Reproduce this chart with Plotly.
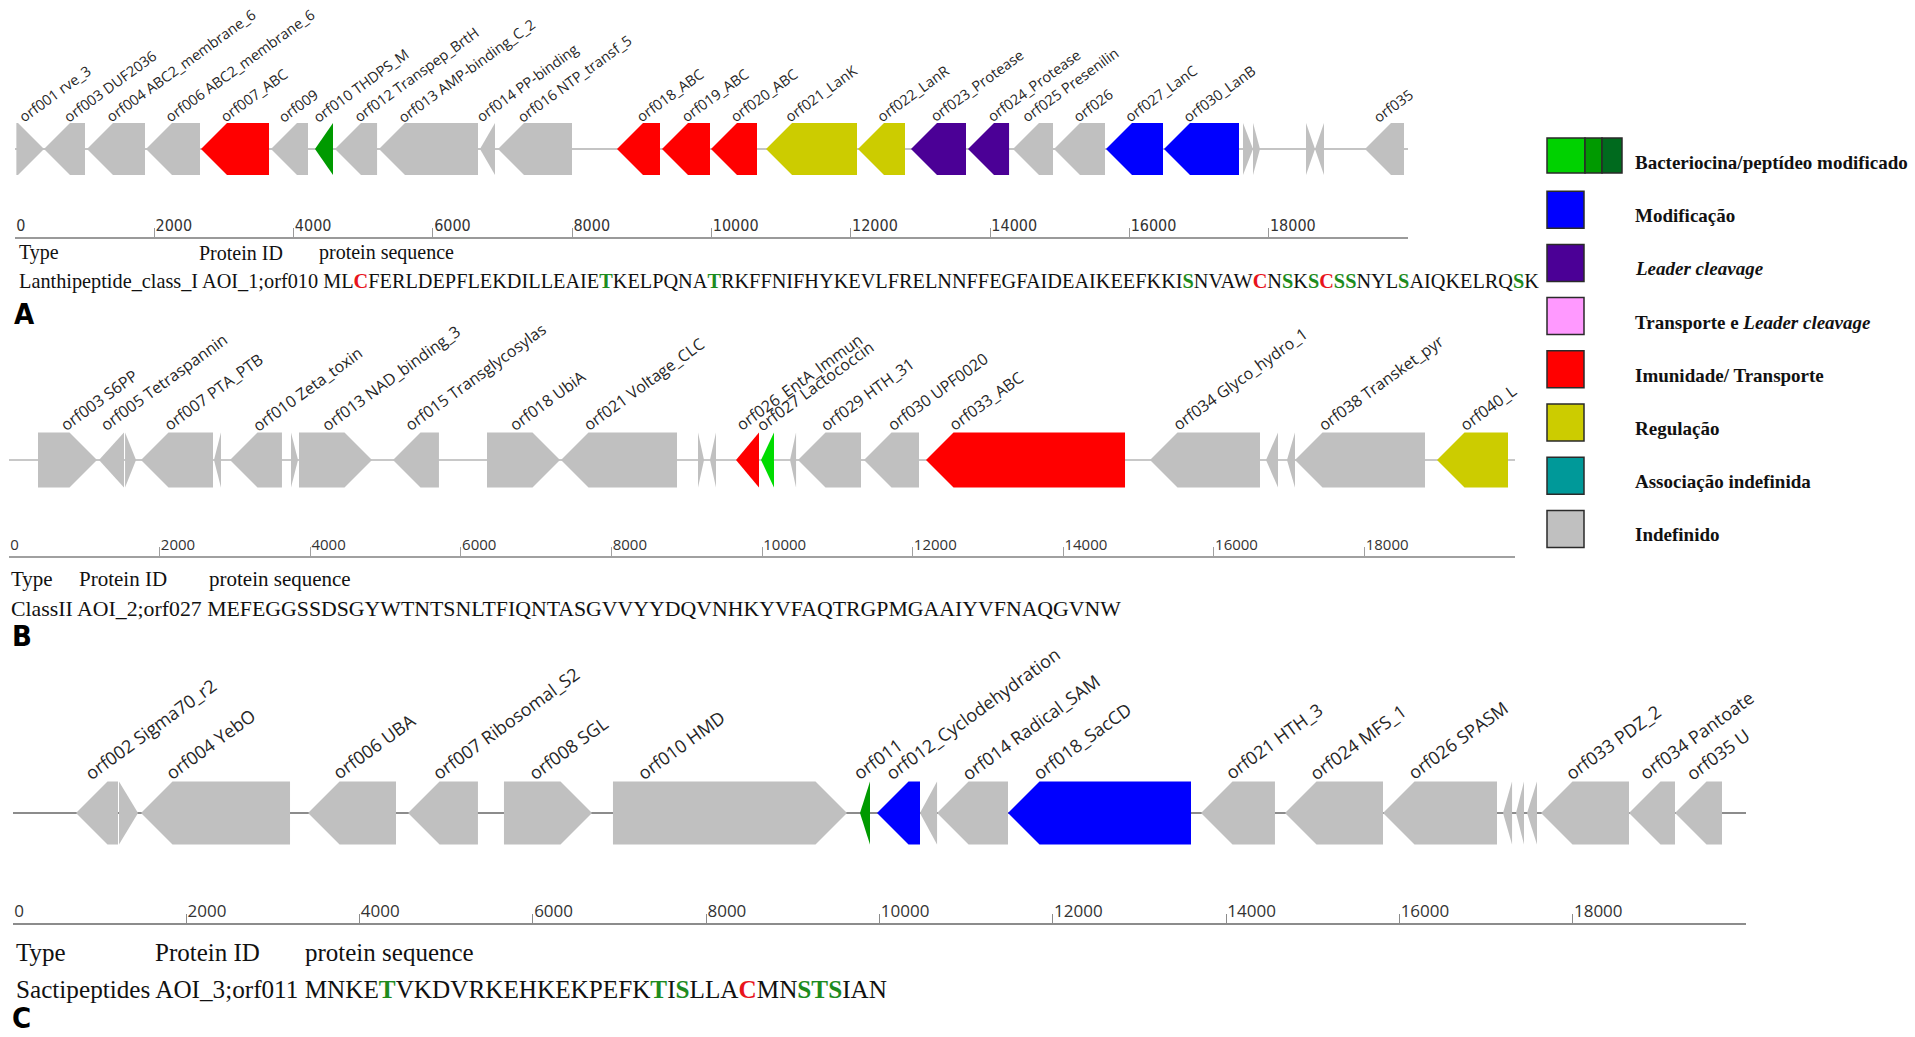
import math
import plotly.graph_objects as go

W, H = 1915, 1037

# ---------------- data ----------------
# Gene functional classes and their fill colours
ROLE_COLORS = {
    "core_I": "#009a00",
    "core_II": "#00dc00",
    "modification": "#0000ff",
    "leader": "#4b0096",
    "transport_leader": "#ff99ff",
    "immunity": "#ff0000",
    "regulation": "#cccc00",
    "assoc_unknown": "#009999",
    "undefined": "#c0c0c0",
}

# AOI_1 – lanthipeptide class I cluster (bp coordinates)
a_names = ["orf001 rve_3", "orf003 DUF2036", "orf004 ABC2_membrane_6", "orf006 ABC2_membrane_6",
           "orf007_ABC", "orf009", "orf010 THDPS_M", "orf012 Transpep_BrtH", "orf013 AMP-binding_C_2",
           "orf014 PP-binding", "orf016 NTP_transf_5", "orf018_ABC", "orf019_ABC", "orf020_ABC",
           "orf021_LanK", "orf022_LanR", "orf023_Protease", "orf024_Protease", "orf025 Presenilin",
           "orf026", "orf027_LanC", "orf030_LanB", "", "", "", "", "orf035"]
a_start = [20, 416, 1034, 1881, 2670, 3676, 4307, 4594, 5226, 6676, 6935, 8643, 9289, 9993,
           10783, 12103, 12864, 13683, 14329, 14917, 15664, 16497, 17631, 17775, 18536, 18665, 19383]
a_end = [416, 1005, 1866, 2656, 3647, 4207, 4566, 5198, 6648, 6892, 7997, 9261, 9978, 10653,
         12089, 12778, 13654, 14272, 14903, 15650, 16482, 17574, 17775, 17875, 18665, 18794, 19943]
a_strand = [1, -1, -1, -1, -1, -1, -1, -1, -1, -1, -1, -1, -1, -1,
            -1, -1, -1, -1, -1, -1, -1, -1, 1, 1, 1, -1, -1]
a_role = ["undefined", "undefined", "undefined", "undefined", "immunity", "undefined", "core_I",
          "undefined", "undefined", "undefined", "undefined", "immunity", "immunity", "immunity",
          "regulation", "regulation", "leader", "leader", "undefined", "undefined",
          "modification", "modification", "undefined", "undefined", "undefined", "undefined", "undefined"]

# AOI_2 – class II bacteriocin cluster
b_names = ["orf003 S6PP", "orf005 Tetraspannin", "", "orf007 PTA_PTB", "", "orf010 Zeta_toxin", "",
           "orf013 NAD_binding_3", "orf015 Transglycosylas", "orf018 UbiA", "orf021 Voltage_CLC", "", "",
           "orf026_EntA_Immun", "orf027 Lactococcin", "", "orf029 HTH_31", "orf030 UPF0020",
           "orf033_ABC", "orf034 Glyco_hydro_1", "", "", "orf038 Transket_pyr", "orf040_L"]
b_start = [385, 1195, 1541, 1753, 2722, 2935, 3745, 3851, 5100, 6348, 7331, 9150, 9309,
           9655, 9987, 10372, 10478, 11355, 12178, 15153, 16693, 16972, 17078, 18964]
b_end = [1169, 1527, 1687, 2709, 2815, 3625, 3838, 4821, 5710, 7317, 8871, 9230, 9389,
         9960, 10159, 10452, 11315, 12085, 14821, 16614, 16853, 17078, 18805, 19907]
b_strand = [1, -1, 1, -1, -1, -1, 1, 1, -1, 1, -1, 1, -1,
            -1, -1, -1, -1, -1, -1, -1, -1, -1, -1, -1]
b_role = ["undefined"] * 13 + ["immunity", "core_II", "undefined", "undefined", "undefined",
                               "immunity", "undefined", "undefined", "undefined", "undefined", "regulation"]

# AOI_3 – sactipeptide cluster
c_names = ["orf002 Sigma70_r2", "", "orf004 YebO", "orf006 UBA", "orf007 Ribosomal_S2", "orf008 SGL",
           "orf010 HMD", "orf011", "orf012_Cyclodehydration", "", "orf014 Radical_SAM", "orf018_SacCD",
           "orf021 HTH_3", "orf024 MFS_1", "orf026 SPASM", "", "", "", "orf033 PDZ_2",
           "orf034 Pantoate", "orf035 U"]
c_start = [727, 1223, 1477, 3405, 4559, 5666, 6924, 9775, 9971, 10467, 10664, 11483,
           13710, 14680, 15811, 17196, 17346, 17473, 17634, 18650, 19181]
c_end = [1212, 1443, 3197, 4420, 5366, 6682, 9625, 9890, 10467, 10664, 11483, 13595,
         14564, 15811, 17126, 17300, 17438, 17588, 18650, 19181, 19723]
c_strand = [-1, 1, -1, -1, -1, 1, 1, -1, -1, -1, -1, -1, -1, -1, -1, -1, -1, -1, -1, -1, -1]
c_role = ["undefined"] * 7 + ["core_I", "modification", "undefined", "undefined", "modification"] + \
         ["undefined"] * 9

region_length = [20000, 20000, 20000]
tick_values = [0, 2000, 4000, 6000, 8000, 10000, 12000, 14000, 16000, 18000]
tick_labels = ["0", "2000", "4000", "6000", "8000", "10000", "12000", "14000", "16000", "18000"]

# Precursor peptide rows: (type, protein id, sequence, modified residue positions, 1-based)
seq_types = ["Lanthipeptide_class_I", "ClassII", "Sactipeptides"]
seq_ids = ["AOI_1;orf010", "AOI_2;orf027", "AOI_3;orf011"]
seq_aa = ["MLCFERLDEPFLEKDILLEAIETKELPQNATRKFFNIFHYKEVLFRELNNFFEGFAIDEAIKEEFKKISNVAWCNSKSCSSNYLSAIQKELRQSK",
          "MEFEGGSSDSGYWTNTSNLTFIQNTASGVVYYDQVNHKYVFAQTRGPMGAAIYVFNAQGVNW",
          "MNKETVKDVRKEHKEKPEFKTISLLACMNSTSIAN"]
seq_cys = [[3, 74, 79], [], [27]]
seq_ser_thr = [[23, 31, 69, 76, 78, 80, 81, 85, 94], [], [5, 21, 23, 30, 31, 32]]

legend_labels = ["<b>Bacteriocina/peptídeo modificado</b>", "<b>Modificação</b>",
                 "<b><i>Leader cleavage</i></b>", "<b>Transporte e <i>Leader cleavage</i></b>",
                 "<b>Imunidade/ Transporte</b>", "<b>Regulação</b>",
                 "<b>Associação indefinida</b>", "<b>Indefinido</b>"]
legend_roles = ["core", "modification", "leader", "transport_leader", "immunity",
                "regulation", "assoc_unknown", "undefined"]
legend_core_shades = ["#00d200", "#009a00", "#006a1e"]

# ---------------- layout helpers ----------------
def px_x(px):
    return px / W


def px_y(py):
    return 1 - py / H


PANELS = [
    dict(x0=15, x1=1408, ruler=237, top=0, center=149, half=26, lab_size=14.5, lab_k=20,
         track="#c4c4c4", axis="#9a9a9a",
         tickfont=dict(family="Liberation Sans Narrow, DejaVu Sans Condensed, Arial Narrow, sans-serif",
                       size=16, color="#333333")),
    dict(x0=9, x1=1515, ruler=556, top=330, center=460, half=27.5, lab_size=16, lab_k=24,
         track="#c8c8c8", axis="#a0a0a0",
         tickfont=dict(family="Open Sans, sans-serif", size=15, color="#333333")),
    dict(x0=13, x1=1746, ruler=923, top=650, center=813, half=31.5, lab_size=18, lab_k=27,
         track="#8c8c8c", axis="#8c8c8c",
         tickfont=dict(family="Open Sans, sans-serif", size=17, color="#333333")),
]

fig = go.Figure()
annotations = []
layout_axes = {}

gene_sets = [
    (a_names, a_start, a_end, a_strand, a_role),
    (b_names, b_start, b_end, b_strand, b_role),
    (c_names, c_start, c_end, c_strand, c_role),
]

ANGLE = 36
for i, (cfg, genes) in enumerate(zip(PANELS, gene_sets)):
    n = "" if i == 0 else str(i + 1)
    xa, ya = "x" + n, "y" + n
    L = region_length[i]
    bp_px = (cfg["x1"] - cfg["x0"]) / L          # pixels per bp
    head = cfg["half"] / bp_px                   # arrow head length (bp)
    c, h = cfg["center"], cfg["half"]

    layout_axes["xaxis" + n] = dict(
        domain=[px_x(cfg["x0"]), px_x(cfg["x1"])], range=[0, L], anchor=ya,
        showgrid=False, zeroline=False, showline=True, linecolor=cfg["axis"], linewidth=1.5,
        ticks="inside", ticklen=9, tickwidth=1, tickcolor=cfg["axis"],
        tickvals=tick_values, ticktext=tick_labels, ticklabelposition="inside right",
        tickfont=cfg["tickfont"], fixedrange=True)
    layout_axes["yaxis" + n] = dict(
        domain=[px_y(cfg["ruler"]), px_y(cfg["top"])], range=[cfg["ruler"], cfg["top"]],
        anchor=xa, visible=False, fixedrange=True)

    # backbone of the cluster
    fig.add_trace(go.Scatter(x=[0, L], y=[c, c], mode="lines", xaxis=xa, yaxis=ya,
                             line=dict(color=cfg["track"], width=2), hoverinfo="skip",
                             showlegend=False))

    names, starts, ends, strands, roles = genes
    for name, s, e, strand, role in zip(names, starts, ends, strands, roles):
        length = e - s
        if length <= head:
            if strand > 0:
                xs, ys = [s, e, s, s], [c - h, c, c + h, c - h]
            else:
                xs, ys = [e, s, e, e], [c - h, c, c + h, c - h]
        else:
            if strand > 0:
                xs = [s, e - head, e, e - head, s, s]
            else:
                xs = [e, s + head, s, s + head, e, e]
            ys = [c - h, c - h, c, c + h, c + h, c - h]
        fig.add_trace(go.Scatter(x=xs, y=ys, mode="lines", fill="toself",
                                 fillcolor=ROLE_COLORS[role], line=dict(width=0),
                                 xaxis=xa, yaxis=ya, hoveron="fills",
                                 text=name or "ORF", hoverinfo="text", showlegend=False))
        if name:
            w_px = length * bp_px
            off_px = cfg["lab_k"] if w_px >= 2 * cfg["lab_k"] else w_px / 2 - 10
            box_h = cfg["lab_size"] * 1.3 + 2
            annotations.append(dict(
                x=s + off_px / bp_px, y=c - h - 1, xref=xa, yref=ya, text=name,
                showarrow=False, textangle=-ANGLE, xanchor="left", yanchor="bottom",
                xshift=5 - box_h * math.sin(math.radians(ANGLE)), yshift=-7,
                font=dict(family="Open Sans, sans-serif", size=cfg["lab_size"], color="#262626")))

# ---------------- precursor peptide rows ----------------
ROW_POS = [
    dict(x_type=17, x_id=197, x_seq=317, y_head=253, y_seq=281, size_head=20, size_seq=20.3,
         x_letter=12, y_letter=314),
    dict(x_type=9, x_id=77, x_seq=207, y_head=579, y_seq=609, size_head=21, size_seq=21.8,
         x_letter=10, y_letter=636),
    dict(x_type=14, x_id=153, x_seq=303, y_head=952, y_seq=989, size_head=25, size_seq=25.2,
         x_letter=10, y_letter=1018),
]
SERIF = "Liberation Serif, Times New Roman, serif"
RED, GREEN = "#e8141c", "#1e8c1e"
panel_letters = ["A", "B", "C"]

for i, pos in enumerate(ROW_POS):
    for txt, xx in [("Type", pos["x_type"]), ("Protein ID", pos["x_id"]),
                    ("protein sequence", pos["x_seq"])]:
        annotations.append(dict(x=px_x(xx), y=px_y(pos["y_head"]), xref="paper", yref="paper",
                                text=txt, showarrow=False, xanchor="left", yanchor="middle",
                                font=dict(family=SERIF, size=pos["size_head"], color="#111111")))
    parts = []
    for k, aa in enumerate(seq_aa[i], start=1):
        if k in seq_cys[i]:
            parts.append(f'<span style="color:{RED}"><b>{aa}</b></span>')
        elif k in seq_ser_thr[i]:
            parts.append(f'<span style="color:{GREEN}"><b>{aa}</b></span>')
        else:
            parts.append(aa)
    line = f"{seq_types[i]} {seq_ids[i]} " + "".join(parts)
    annotations.append(dict(x=px_x(pos["x_type"]), y=px_y(pos["y_seq"]), xref="paper", yref="paper",
                            text=line, showarrow=False, xanchor="left", yanchor="middle",
                            font=dict(family=SERIF, size=pos["size_seq"], color="#111111")))
    annotations.append(dict(x=px_x(pos["x_letter"]), y=px_y(pos["y_letter"]), xref="paper",
                            yref="paper", text=f"<b>{panel_letters[i]}</b>", showarrow=False,
                            xanchor="left", yanchor="middle",
                            font=dict(family="Liberation Sans Narrow, DejaVu Sans Condensed, sans-serif",
                                      size=29, color="#000000")))

# ---------------- colour key ----------------
shapes = []
SW_X0, SW_SIZE, SW_Y0, SW_STEP = 1547, 37, 138, 53.2
for j, (lab, role) in enumerate(zip(legend_labels, legend_roles)):
    y0 = SW_Y0 + j * SW_STEP
    if role == "core":
        seg_w = [38, 17, 20]
        xx = SW_X0
        for col, wseg in zip(legend_core_shades, seg_w):
            shapes.append(dict(type="rect", xref="paper", yref="paper", x0=px_x(xx), x1=px_x(xx + wseg),
                               y0=px_y(y0 + SW_SIZE - 2), y1=px_y(y0), fillcolor=col,
                               line=dict(color="#2a2a2a", width=1.5)))
            xx += wseg
    else:
        shapes.append(dict(type="rect", xref="paper", yref="paper", x0=px_x(SW_X0),
                           x1=px_x(SW_X0 + SW_SIZE), y0=px_y(y0 + SW_SIZE), y1=px_y(y0),
                           fillcolor=ROLE_COLORS[role], line=dict(color="#2a2a2a", width=1.5)))
    annotations.append(dict(x=px_x(1633), y=px_y(y0 + SW_SIZE / 2 + 6), xref="paper", yref="paper",
                            text=lab, showarrow=False, xanchor="left", yanchor="middle",
                            font=dict(family=SERIF, size=19, color="#111111")))

fig.update_layout(
    width=W, height=H, margin=dict(l=0, r=0, t=0, b=0),
    paper_bgcolor="white", plot_bgcolor="white",
    showlegend=False, annotations=annotations, shapes=shapes,
    **layout_axes,
)

fig.write_html("out.html", config={"displayModeBar": False})
